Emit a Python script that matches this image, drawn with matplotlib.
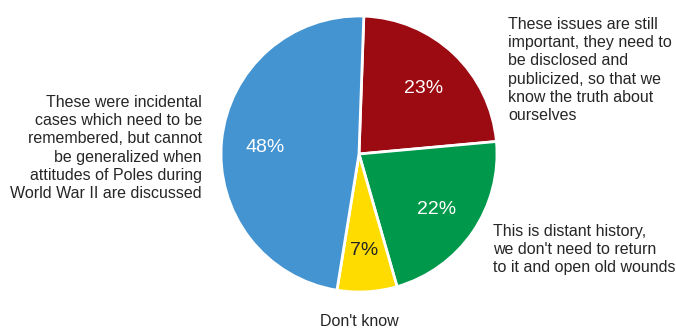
import matplotlib.pyplot as plt

# --- Data ---
labels = [
    "These issues are still\nimportant, they need to\nbe disclosed and\npublicized, so that we\nknow the truth about\nourselves",
    "This is distant history,\nwe don't need to return\nto it and open old wounds",
    "Don't know",
    "These were incidental\ncases which need to be\nremembered, but cannot\nbe generalized when\nattitudes of Poles during\nWorld War II are discussed",
]
shares = [23, 22, 7, 48]
colors = ['#9C0A12', '#00984A', '#FFDC00', '#4494D1']
pct_colors = ['white', 'white', '#262626', 'white']

plt.rcParams['font.family'] = ['Liberation Sans', 'DejaVu Sans']

fig = plt.figure(figsize=(6.76, 3.29), dpi=100)
ax = fig.add_axes([0, 0, 1, 1])

wedges, texts, autotexts = ax.pie(
    shares, colors=colors, startangle=88, counterclock=False,
    autopct='%d%%', pctdistance=0.68,
    wedgeprops=dict(edgecolor='white', linewidth=2),
)
for t, c in zip(autotexts, pct_colors):
    t.set_color(c)
    t.set_fontsize(14)
    x, y = t.get_position()
    t.set_position((x, y - 0.02))

# outside labels (positions in pie-radius units)
txt = dict(fontsize=11.5, color='#262626', linespacing=1.28)
ax.text(1.08, 0.995, labels[0], ha='left', va='top', **txt)
ax.text(0.971, -0.505, labels[1], ha='left', va='top', **txt)
ax.text(0.0, -1.215, labels[2], ha='center', va='center', **txt)
ax.text(-1.138, 0.43, labels[3], ha='right', va='top', multialignment='right', **txt)

ax.set_xlim(-359 / 138, (676 - 359) / 138)
ax.set_ylim((154 - 329) / 138, 154 / 138)
ax.set_aspect('equal')
ax.axis('off')

plt.savefig('out.png', dpi=100)
plt.close()
